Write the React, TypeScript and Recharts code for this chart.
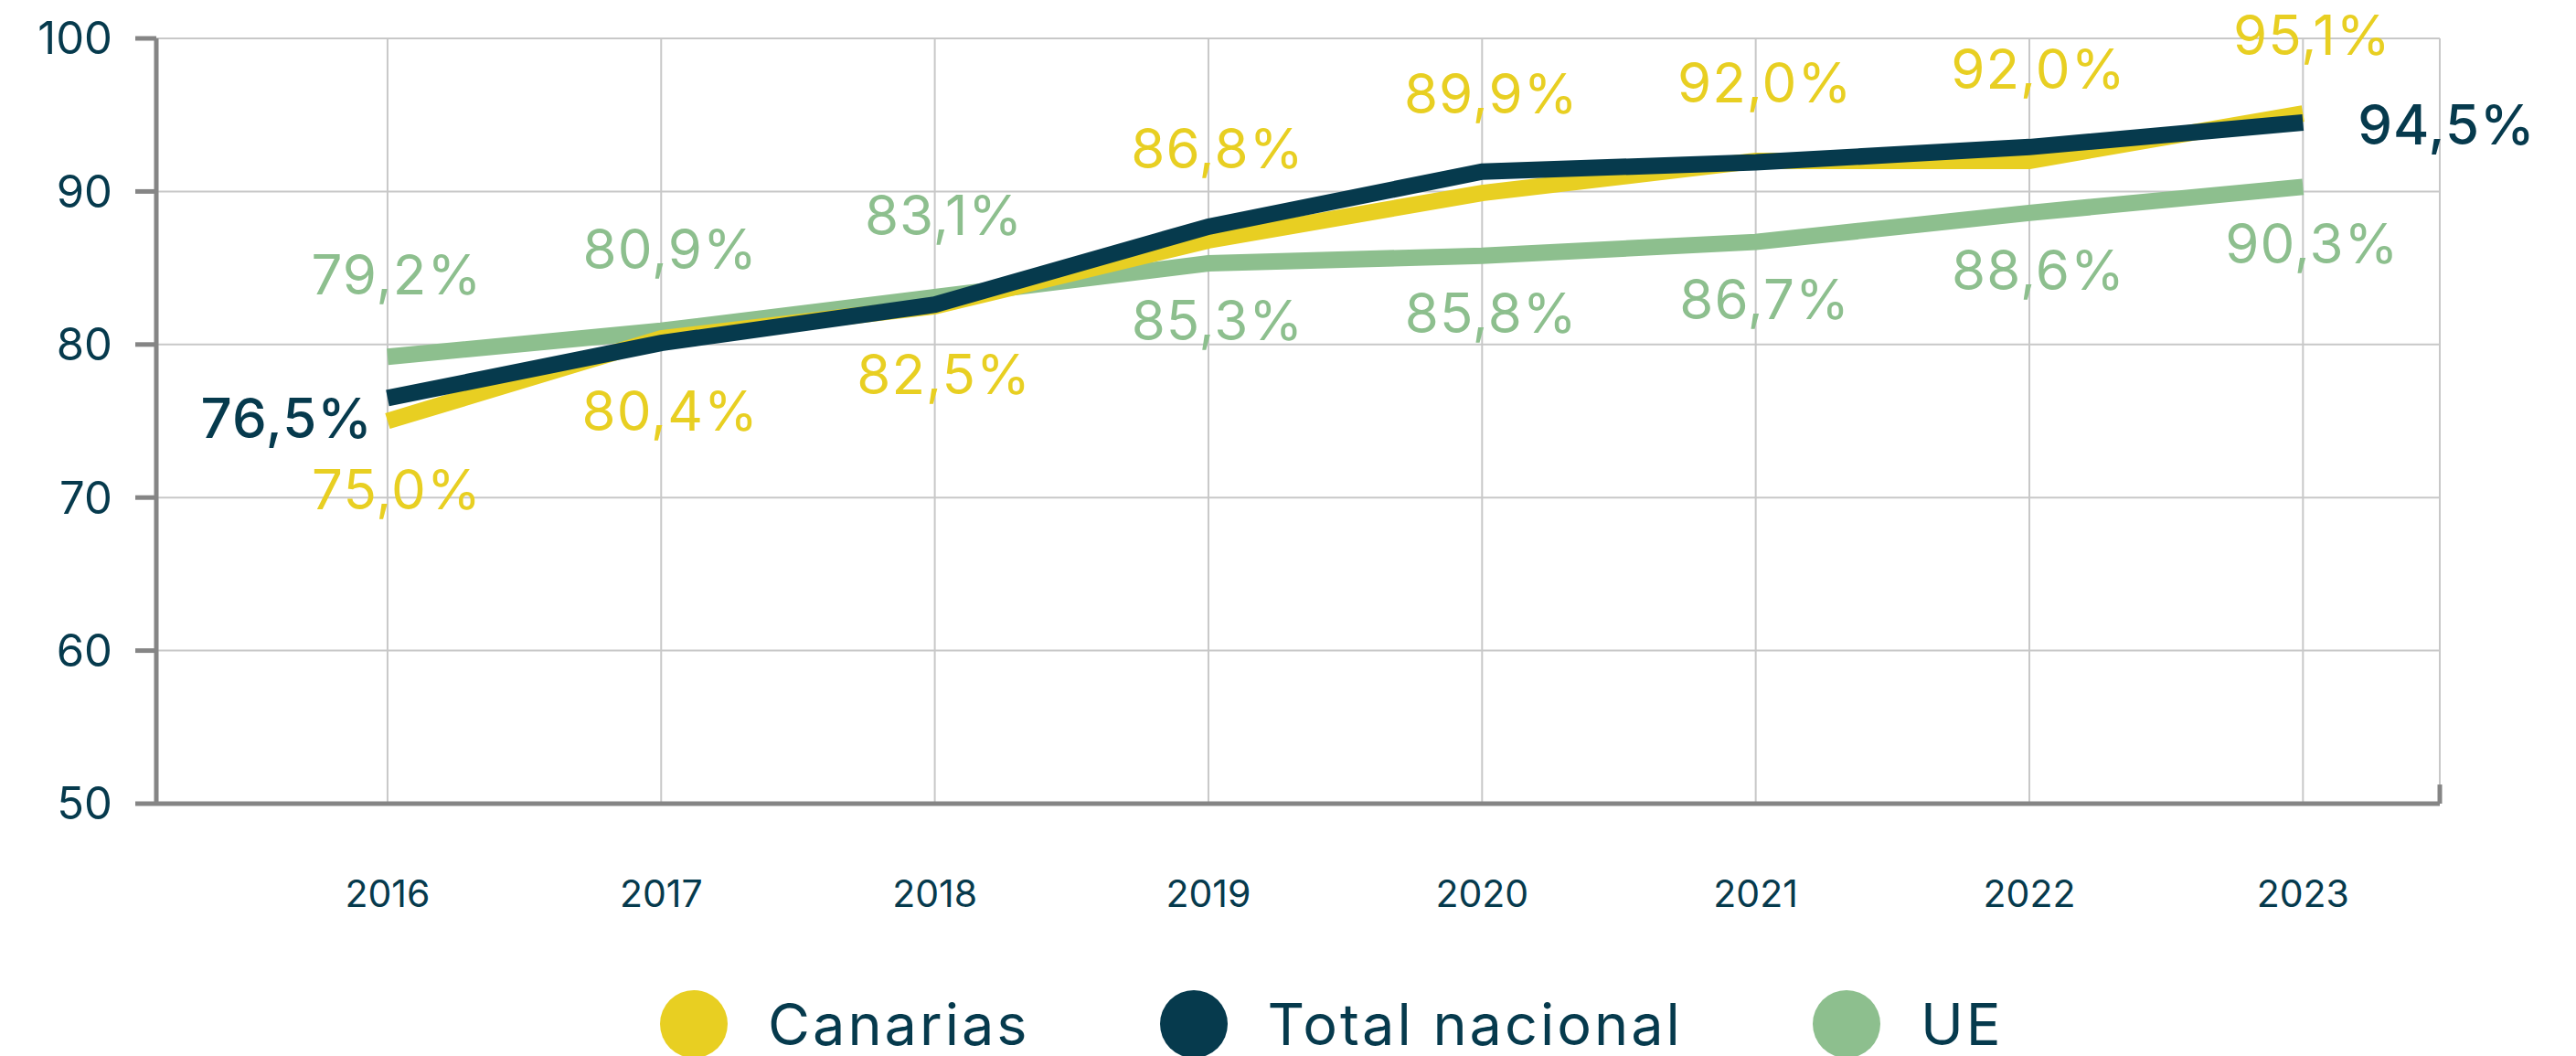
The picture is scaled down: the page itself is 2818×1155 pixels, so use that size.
import React from "react";
import {
  CartesianGrid,
  Legend,
  LabelList,
  Line,
  LineChart,
  ReferenceLine,
  XAxis,
  YAxis,
} from "recharts";

// Tasa de hogares con acceso (%), 2016–2023
const YEARS = [2016, 2017, 2018, 2019, 2020, 2021, 2022, 2023];
const CANARIAS = [75.0, 80.4, 82.5, 86.8, 89.9, 92.0, 92.0, 95.1];
const TOTAL_NACIONAL = [76.5, 80.1, 82.6, 87.7, 91.3, 91.9, 92.9, 94.5];
const UE = [79.2, 80.9, 83.1, 85.3, 85.8, 86.7, 88.6, 90.3];
const Y_TICKS = [50, 60, 70, 80, 90, 100];

const YELLOW = "#e8cf22";
const DARK = "#063a4d";
const GREEN = "#8dbf8e";
const AXIS = "#858585";
const GRID = "#c8c8c8";

const SERIES = [
  { key: "canarias", name: "Canarias", color: YELLOW },
  { key: "total", name: "Total nacional", color: DARK },
  { key: "ue", name: "UE", color: GREEN },
];

// chart geometry
const CHART_H = 1200;
const MARGIN_TOP = 42;
const XAXIS_H = 130;
const LEGEND_H = 191;
const PX_PER_UNIT = (CHART_H - MARGIN_TOP - XAXIS_H - LEGEND_H) / 50;

const data = YEARS.map((year, i) => ({
  year,
  canarias: CANARIAS[i],
  total: TOTAL_NACIONAL[i],
  ue: UE[i],
}));

const fmt = (v: number) => `${v.toFixed(1).replace(".", ",")}%`;

const labelStyle = { letterSpacing: 1 };

// Canarias labels clear both the yellow and the dark line
function CanariasLabel(props: any) {
  const { x, y, index, value } = props;
  const above = CANARIAS[index] > UE[index];
  const top = Math.max(CANARIAS[index], TOTAL_NACIONAL[index]);
  const bottom = Math.min(CANARIAS[index], TOTAL_NACIONAL[index]);
  const ly = above
    ? y - (top - value) * PX_PER_UNIT - 86
    : y + (value - bottom) * PX_PER_UNIT + 74;
  return (
    <text
      x={x + 10}
      y={ly}
      textAnchor="middle"
      dominantBaseline="central"
      fill={YELLOW}
      fontSize={60}
      style={labelStyle}
    >
      {fmt(value)}
    </text>
  );
}

function UeLabel(props: any) {
  const { x, y, index, value } = props;
  const above = UE[index] > CANARIAS[index];
  return (
    <text
      x={x + 10}
      y={above ? y - 90 : y + 62}
      textAnchor="middle"
      dominantBaseline="central"
      fill={GREEN}
      fontSize={60}
      style={labelStyle}
    >
      {fmt(value)}
    </text>
  );
}

// only first and last point are labelled for the national total
function TotalLabel(props: any) {
  const { x, y, index, value } = props;
  const last = YEARS.length - 1;
  if (index !== 0 && index !== last) return null;
  const first = index === 0;
  return (
    <text
      x={first ? x - 16 : x + 60}
      y={first ? y + 22 : y + 2}
      textAnchor={first ? "end" : "start"}
      dominantBaseline="central"
      fill={DARK}
      fontSize={60}
      fontWeight={500}
      style={labelStyle}
    >
      {fmt(value)}
    </text>
  );
}

function ChartLegend() {
  return (
    <div
      style={{
        height: LEGEND_H,
        boxSizing: "border-box",
        paddingLeft: 722,
        paddingTop: 74,
        display: "flex",
        alignItems: "flex-start",
      }}
    >
      {SERIES.map((s) => (
        <div
          key={s.key}
          style={{ display: "flex", alignItems: "center", height: 74, marginRight: 142 }}
        >
          <span
            style={{
              width: 74,
              height: 74,
              borderRadius: "50%",
              background: s.color,
              marginRight: 44,
              display: "inline-block",
            }}
          />
          <span style={{ fontSize: 63, lineHeight: 1, color: DARK, letterSpacing: 3 }}>
            {s.name}
          </span>
        </div>
      ))}
    </div>
  );
}

export default function App() {
  return (
    <div
      style={{
        position: "absolute",
        left: 0,
        top: 0,
        width: 2818,
        height: 1155,
        overflow: "hidden",
        background: "#fff",
        fontFamily: "Inter, 'Noto Sans', sans-serif",
      }}
    >
      <LineChart
        width={2818}
        height={CHART_H}
        data={data}
        margin={{ top: MARGIN_TOP, right: 149, bottom: 0, left: 0 }}
      >
        <CartesianGrid stroke={GRID} strokeWidth={2} />
        <XAxis
          dataKey="year"
          type="number"
          domain={[2015.155, 2023.5]}
          ticks={YEARS}
          height={XAXIS_H}
          tickLine={false}
          tickSize={0}
          tickMargin={84}
          axisLine={{ stroke: AXIS, strokeWidth: 5 }}
          tick={{ fill: DARK, fontSize: 41 }}
        />
        <YAxis
          domain={[50, 100]}
          ticks={Y_TICKS}
          width={171}
          tickSize={23}
          tickMargin={25}
          axisLine={{ stroke: AXIS, strokeWidth: 5 }}
          tickLine={{ stroke: AXIS, strokeWidth: 5 }}
          tick={{ fill: DARK, fontSize: 49 }}
        />
        <ReferenceLine
          segment={[
            { x: 2023.5, y: 50 },
            { x: 2023.5, y: 51.25 },
          ]}
          stroke={AXIS}
          strokeWidth={5}
        />
        <Line
          dataKey="ue"
          name="UE"
          type="linear"
          stroke={GREEN}
          strokeWidth={18}
          dot={false}
          activeDot={false}
          isAnimationActive={false}
        >
          <LabelList dataKey="ue" content={UeLabel} />
        </Line>
        <Line
          dataKey="canarias"
          name="Canarias"
          type="linear"
          stroke={YELLOW}
          strokeWidth={18}
          dot={false}
          activeDot={false}
          isAnimationActive={false}
        >
          <LabelList dataKey="canarias" content={CanariasLabel} />
        </Line>
        <Line
          dataKey="total"
          name="Total nacional"
          type="linear"
          stroke={DARK}
          strokeWidth={18}
          dot={false}
          activeDot={false}
          isAnimationActive={false}
        >
          <LabelList dataKey="total" content={TotalLabel} />
        </Line>
        <Legend content={ChartLegend} wrapperStyle={{ left: 0, width: 2818 }} />
      </LineChart>
    </div>
  );
}
